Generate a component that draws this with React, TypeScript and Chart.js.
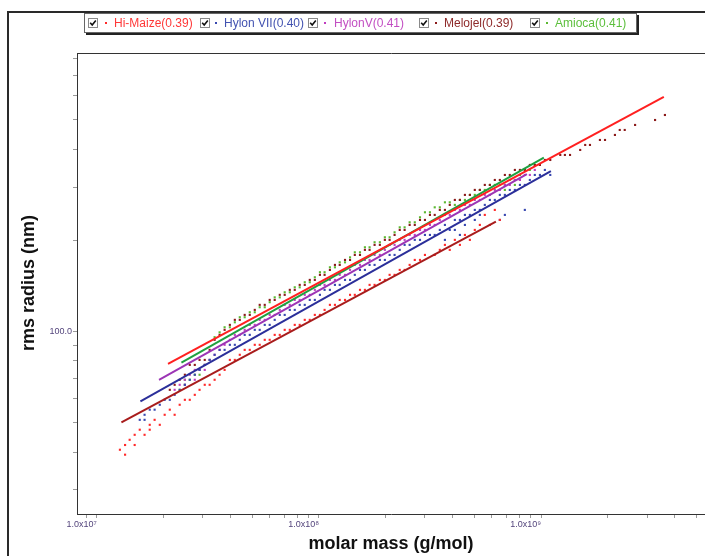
import React, { useEffect, useRef } from "react";
import { Chart, registerables } from "chart.js";

Chart.register(...registerables);

const FONT = "'Liberation Sans', Arial, 'DejaVu Sans', sans-serif";

// ---------- legend ----------
const seriesLabels = ["Hi-Maize(0.39)", "Hylon VII(0.40)", "HylonV(0.41)", "Melojel(0.39)", "Amioca(0.41)"];
const seriesTextColors = ["#ff3838", "#4252b0", "#c24ec2", "#8e2a2a", "#5cbf3c"];
const seriesDotColors = ["#ff2a2a", "#3848b0", "#c03cc0", "#8b1a1a", "#5cb832"];
const fitLineColors = ["#a81c1c", "#2b2f9a", "#9c35b5", "#ff2020", "#1fa040"];

// ---------- axis ticks ----------
const xTickValues = [
  9e6, 1e7, 2e7, 3e7, 4e7, 5e7, 6e7, 7e7, 8e7, 9e7,
  1e8, 2e8, 3e8, 4e8, 5e8, 6e8, 7e8, 8e8, 9e8,
  1e9, 2e9, 3e9, 4e9, 5e9,
];
const xTickLabels: Record<string, string> = { "10000000": "1.0x10\u2077", "100000000": "1.0x10\u2078", "1000000000": "1.0x10\u2079" };
const yTickValues = [30, 40, 50, 60, 70, 80, 90, 100, 200, 300, 400, 500, 600, 700, 800];
const yTickLabels: Record<string, string> = { "100": "100.0" };
const xMin = 8.14e6;
const xMax = 5.47e9;
const yMin = 24.97;
const yMax = 831.7;

// ---------- Hi-Maize ----------
const hiMaizeMass = [
  1.27e7, 1.34e7, 1.34e7, 1.405e7, 1.48e7, 1.48e7, 1.56e7, 1.64e7, 1.73e7, 1.73e7,
  1.82e7, 1.92e7, 2.02e7, 2.13e7, 2.24e7, 2.36e7, 2.49e7, 2.62e7, 2.76e7, 2.90e7,
  3.06e7, 3.22e7, 3.39e7, 3.57e7, 3.76e7,
  3.97e7, 4.18e7, 4.40e7, 4.63e7, 4.88e7, 5.14e7, 5.41e7, 5.70e7, 6.00e7, 6.32e7,
  6.66e7, 7.01e7, 7.39e7, 7.78e7, 8.19e7, 8.63e7, 9.09e7, 9.58e7, 1.01e8, 1.06e8,
  1.12e8, 1.18e8, 1.24e8, 1.31e8, 1.38e8, 1.45e8, 1.53e8, 1.61e8, 1.69e8, 1.78e8,
  1.88e8, 1.98e8, 2.08e8, 2.19e8, 2.31e8, 2.43e8, 2.56e8, 2.70e8, 2.85e8, 3.00e8,
  3.32e8, 3.50e8, 3.69e8, 3.88e8, 4.09e8, 4.31e8, 4.54e8, 4.78e8, 5.03e8, 5.30e8,
  5.58e8, 5.88e8, 6.19e8, 6.52e8,
];
const hiMaizeRadius = [
  40.7, 42.2, 39.2, 43.9, 45.6, 42.2, 47.4, 45.6, 49.2, 47.4,
  51.1, 49.2, 53.1, 55.2, 53.1, 57.3, 59.5, 59.5, 61.8, 64.2,
  66.7, 66.7, 69.3, 72.0, 74.7,
  80.6, 80.6, 83.8, 87.0, 87.0, 90.4, 90.4, 93.9, 93.9, 97.5,
  97.5, 101.3, 101.3, 105.2, 105.2, 109.3, 109.3, 113.5, 113.5, 117.9,
  122.5, 122.5, 127.2, 127.2, 132.2, 132.2, 137.3, 137.3, 142.6, 142.6,
  148.1, 148.1, 153.9, 153.9, 159.8, 159.8, 166.0, 172.4, 172.4, 179.1,
  179.1, 186.1, 193.3, 186.1, 200.8, 193.3, 208.5, 200.8, 216.6, 225.0,
  242.8, 225.0, 252.2, 233.7,
];

// ---------- Hylon VII ----------
const hylonVIIMass = [
  1.56e7, 1.64e7, 1.64e7, 1.73e7, 1.82e7, 1.92e7, 2.02e7, 2.13e7, 2.24e7, 2.36e7,
  2.49e7, 2.62e7, 2.76e7, 2.90e7, 3.06e7, 3.22e7,
  3.39e7, 3.57e7, 3.76e7, 3.97e7, 4.18e7, 4.40e7, 4.63e7, 4.88e7, 5.14e7, 5.41e7,
  5.70e7, 6.00e7, 6.32e7, 6.66e7, 7.01e7, 7.39e7, 7.78e7, 8.19e7, 8.63e7, 9.09e7,
  9.58e7, 1.01e8, 1.06e8, 1.12e8, 1.18e8, 1.24e8, 1.31e8, 1.38e8, 1.45e8, 1.53e8,
  1.61e8, 1.69e8, 1.78e8, 1.88e8, 1.98e8, 2.08e8, 2.19e8, 2.31e8, 2.43e8, 2.56e8,
  2.70e8, 2.85e8, 3.00e8, 3.16e8,
  3.32e8, 3.50e8, 3.69e8, 3.88e8, 4.09e8, 4.31e8, 4.54e8, 4.78e8, 5.03e8, 5.30e8,
  5.58e8, 5.88e8, 6.19e8, 6.52e8, 6.87e8, 7.23e8, 7.62e8, 8.03e8, 8.45e8, 8.90e8,
  9.37e8, 9.88e8, 1.04e9, 1.10e9,
  4.09e8, 4.54e8, 5.03e8, 5.30e8, 6.52e8, 6.87e8, 8.45e8, 3.69e8, 4.31e8,
];
const hylonVIIRadius = [
  51.1, 53.1, 51.1, 55.2, 55.2, 57.3, 59.5, 59.5, 61.8, 64.2,
  66.7, 69.3, 72.0, 74.7, 77.6, 80.6,
  83.8, 87.0, 87.0, 90.4, 90.4, 93.9, 97.5, 97.5, 101.3, 101.3,
  105.2, 105.2, 109.3, 113.5, 113.5, 117.9, 117.9, 122.5, 122.5, 127.2,
  127.2, 132.2, 137.3, 137.3, 142.6, 142.6, 148.1, 148.1, 153.9, 159.8,
  159.8, 166.0, 166.0, 172.4, 172.4, 179.1, 179.1, 186.1, 193.3, 193.3,
  200.8, 200.8, 208.5, 208.5,
  208.5, 216.6, 225.0, 216.6, 233.7, 233.7, 242.8, 242.8, 252.2, 252.2,
  262.0, 272.1, 272.1, 282.7, 282.7, 293.6, 293.6, 305.0, 305.0, 316.7,
  329.0, 329.0, 341.8, 329.0,
  216.6, 225.0, 233.7, 242.8, 233.7, 242.8, 252.2, 200.8, 208.5,
];

// ---------- HylonV ----------
const hylonVMass = [
  2.24e7, 2.36e7, 2.49e7, 2.49e7, 2.62e7, 2.76e7, 2.76e7, 2.90e7, 3.06e7, 3.06e7,
  3.22e7, 3.39e7,
  3.57e7, 3.76e7, 3.97e7, 4.18e7, 4.40e7, 4.63e7, 4.88e7, 5.14e7, 5.41e7, 5.70e7,
  6.00e7, 6.32e7, 6.66e7, 7.01e7, 7.39e7, 7.78e7, 8.19e7, 8.63e7, 9.09e7, 9.58e7,
  1.01e8, 1.06e8, 1.12e8, 1.18e8, 1.24e8, 1.31e8, 1.38e8, 1.45e8, 1.53e8, 1.61e8,
  1.69e8, 1.78e8, 1.88e8, 1.98e8, 2.08e8, 2.19e8, 2.31e8, 2.43e8, 2.56e8, 2.70e8,
  2.85e8, 3.00e8, 3.16e8, 3.32e8, 3.50e8, 3.69e8, 3.88e8, 4.09e8, 4.31e8, 4.54e8,
  4.78e8, 5.03e8, 5.30e8, 5.58e8, 5.88e8, 6.19e8, 6.52e8, 6.87e8, 7.23e8, 7.62e8,
  8.03e8, 8.45e8, 8.90e8, 9.37e8,
];
const hylonVRadius = [
  64.2, 66.7, 69.3, 66.7, 72.0, 69.3, 74.7, 74.7, 74.7, 77.6,
  80.6, 83.8,
  87.0, 90.4, 93.9, 97.5, 97.5, 101.3, 105.2, 105.2, 109.3, 109.3,
  113.5, 113.5, 117.9, 122.5, 122.5, 127.2, 127.2, 132.2, 132.2, 137.3,
  142.6, 142.6, 148.1, 148.1, 153.9, 153.9, 159.8, 166.0, 166.0, 172.4,
  172.4, 179.1, 179.1, 186.1, 193.3, 193.3, 200.8, 200.8, 208.5, 208.5,
  216.6, 216.6, 225.0, 225.0, 233.7, 242.8, 242.8, 252.2, 252.2, 262.0,
  262.0, 272.1, 272.1, 282.7, 282.7, 293.6, 293.6, 305.0, 305.0, 316.7,
  316.7, 329.0, 329.0, 341.8,
];

// ---------- Melojel ----------
const melojelMass = [
  2.13e7, 2.24e7, 2.36e7, 2.49e7, 2.62e7, 2.76e7, 2.90e7, 3.06e7,
  3.22e7, 3.39e7, 3.57e7, 3.76e7, 3.97e7, 4.18e7, 4.40e7, 4.63e7, 4.88e7, 5.14e7,
  5.41e7, 5.70e7, 6.00e7, 6.32e7, 6.66e7, 7.01e7, 7.39e7, 7.78e7, 8.19e7, 8.63e7,
  9.09e7, 9.58e7, 1.01e8, 1.06e8, 1.12e8, 1.18e8, 1.24e8, 1.31e8, 1.38e8, 1.45e8,
  1.53e8, 1.61e8, 1.69e8, 1.78e8, 1.88e8, 1.98e8, 2.08e8, 2.19e8, 2.31e8, 2.43e8,
  2.56e8, 2.70e8, 2.85e8, 3.00e8, 3.16e8, 3.32e8, 3.50e8, 3.69e8, 3.88e8, 4.09e8,
  4.31e8, 4.54e8, 4.78e8, 5.03e8, 5.30e8, 5.58e8, 5.88e8, 6.19e8, 6.52e8, 6.87e8,
  7.23e8, 7.62e8, 8.03e8, 8.45e8, 8.90e8,
  9.37e8, 9.88e8, 1.04e9, 1.10e9, 1.22e9, 1.28e9, 1.35e9, 1.50e9, 1.58e9, 1.66e9,
  1.84e9, 1.94e9, 2.15e9, 2.26e9, 2.38e9, 2.65e9, 3.26e9, 3.61e9,
];
const melojelRadius = [
  64.2, 66.7, 69.3, 72.0, 77.6, 77.6, 80.6, 80.6,
  87.0, 93.9, 97.5, 101.3, 105.2, 109.3, 109.3, 113.5, 113.5, 117.9,
  122.5, 122.5, 127.2, 127.2, 132.2, 132.2, 137.3, 137.3, 142.6, 142.6,
  148.1, 148.1, 153.9, 153.9, 159.8, 166.0, 166.0, 172.4, 172.4, 179.1,
  179.1, 186.1, 186.1, 193.3, 193.3, 200.8, 200.8, 208.5, 216.6, 216.6,
  225.0, 225.0, 233.7, 233.7, 242.8, 242.8, 252.2, 252.2, 262.0, 272.1,
  272.1, 282.7, 282.7, 293.6, 293.6, 305.0, 305.0, 316.7, 316.7, 329.0,
  329.0, 341.8, 341.8, 341.8, 355.0,
  355.0, 355.0, 368.7, 368.7, 383.0, 383.0, 383.0, 397.9, 413.3, 413.3,
  429.3, 429.3, 446.0, 463.2, 463.2, 481.2, 499.7, 519.1,
];

// ---------- Amioca ----------
const amiocaMass = [
  2.36e7, 2.49e7, 2.49e7, 2.62e7, 2.76e7, 2.90e7, 2.90e7, 3.06e7, 3.22e7,
  3.39e7, 3.57e7, 3.76e7, 3.97e7, 4.18e7, 4.40e7, 4.63e7, 4.88e7, 5.14e7, 5.41e7,
  5.70e7, 6.00e7, 6.32e7, 6.66e7, 7.01e7, 7.39e7, 7.78e7, 8.19e7, 8.63e7, 9.09e7,
  9.58e7, 1.01e8, 1.06e8, 1.12e8, 1.18e8, 1.24e8, 1.31e8, 1.38e8, 1.45e8, 1.53e8,
  1.61e8, 1.69e8, 1.78e8, 1.88e8, 1.98e8, 2.08e8, 2.19e8, 2.31e8, 2.43e8, 2.56e8,
  2.70e8, 2.85e8, 3.00e8, 3.16e8, 3.32e8, 3.50e8, 3.69e8, 3.88e8, 4.09e8, 4.31e8,
  4.54e8, 4.78e8, 5.03e8, 5.30e8, 5.58e8, 5.88e8, 6.19e8, 6.52e8, 6.87e8, 7.23e8,
  7.62e8, 8.03e8, 8.45e8, 8.90e8, 9.37e8, 9.88e8,
  6.87e8, 7.62e8, 8.03e8,
];
const amiocaRadius = [
  64.2, 69.3, 66.7, 69.3, 72.0, 74.7, 72.0, 77.6, 80.6,
  95.8, 99.4, 103.3, 103.3, 107.3, 111.5, 111.5, 115.8, 115.8, 120.3,
  120.3, 125.0, 129.7, 129.7, 134.8, 134.8, 140.0, 140.0, 145.5, 145.5,
  151.1, 157.0, 157.0, 163.0, 163.0, 169.3, 169.3, 175.8, 182.7, 182.7,
  189.8, 189.8, 197.2, 197.2, 204.8, 204.8, 212.7, 220.9, 220.9, 229.5,
  229.5, 238.4, 247.7, 247.7, 257.2, 257.2, 267.2, 267.2, 262.0, 272.1,
  272.1, 282.7, 282.7, 293.6, 293.6, 305.0, 305.0, 305.0, 305.0, 316.7,
  316.7, 329.0, 341.8, 341.8, 355.0, 355.0,
  293.6, 305.0, 316.7,
];

// ---------- fit lines (start, end) ----------
const hiMaizeFitMass = [1.29e7, 6.26e8];
const hiMaizeFitRadius = [50.1, 230.7];
const hylonVIIFitMass = [1.571e7, 1.107e9];
const hylonVIIFitRadius = [58.8, 338.8];
const hylonVFitMass = [1.905e7, 8.63e8];
const hylonVFitRadius = [69.3, 331.0];
const melojelFitMass = [2.091e7, 3.57e9];
const melojelFitRadius = [78.2, 595.3];
const amiocaFitMass = [2.403e7, 1.029e9];
const amiocaFitRadius = [79.0, 375.2];

const scatterSeries = [
  [hiMaizeMass, hiMaizeRadius],
  [hylonVIIMass, hylonVIIRadius],
  [hylonVMass, hylonVRadius],
  [melojelMass, melojelRadius],
  [amiocaMass, amiocaRadius],
];
const fitSeries = [
  [hiMaizeFitMass, hiMaizeFitRadius],
  [hylonVIIFitMass, hylonVIIFitRadius],
  [hylonVFitMass, hylonVFitRadius],
  [melojelFitMass, melojelFitRadius],
  [amiocaFitMass, amiocaFitRadius],
];

const toPoints = (xs: number[], ys: number[]) => xs.map((x, i) => ({ x, y: ys[i] }));

const plotTopBorder = {
  id: "plotTopBorder",
  afterDraw(chart: any) {
    const { ctx, chartArea } = chart;
    ctx.save();
    ctx.strokeStyle = "#333";
    ctx.lineWidth = 1;
    ctx.beginPath();
    const y = Math.floor(chartArea.top) + 0.5;
    ctx.moveTo(chartArea.left, y);
    ctx.lineTo(chartArea.right + 2, y);
    ctx.stroke();
    ctx.restore();
  },
};

const legendCheckLeft = [88, 200, 308, 419, 530];
const legendDotLeft = [105, 215, 324, 435, 546];
const legendTextLeft = [114, 224, 334, 444, 555];

function CheckBox({ left }: { left: number }) {
  return (
    <svg width="10" height="10" style={{ position: "absolute", left, top: 18 }}>
      <rect x="0.5" y="0.5" width="9" height="9" fill="#fff" stroke="#8a8a8a" />
      <path d="M2.2 4.8 L4.2 7 L7.8 2.6" fill="none" stroke="#111" strokeWidth="1.6" />
    </svg>
  );
}

export default function App() {
  const canvasRef = useRef<HTMLCanvasElement | null>(null);

  useEffect(() => {
    if (!canvasRef.current) return;
    const tickColor = "#9a9a9a";
    const labelColor = "#54457c";
    const datasets: any[] = [];
    fitSeries.forEach(([xs, ys], i) => {
      datasets.push({
        label: seriesLabels[i] + " fit",
        data: toPoints(xs, ys),
        showLine: true,
        borderColor: fitLineColors[i],
        borderWidth: 2,
        pointRadius: 0,
        fill: false,
        order: 0,
      });
    });
    scatterSeries.forEach(([xs, ys], i) => {
      datasets.push({
        label: seriesLabels[i],
        data: toPoints(xs, ys),
        showLine: false,
        pointStyle: "rect",
        pointRadius: 1.5,
        pointBorderWidth: 0,
        pointBackgroundColor: seriesDotColors[i],
        pointBorderColor: seriesDotColors[i],
        order: 1,
      });
    });

    const chart = new Chart(canvasRef.current, {
      type: "scatter",
      data: { datasets },
      plugins: [plotTopBorder],
      options: {
        animation: false,
        responsive: false,
        events: [],
        layout: { autoPadding: false, padding: { left: 0, top: 53, right: 0, bottom: 0 } },
        plugins: { legend: { display: false }, tooltip: { enabled: false } },
        scales: {
          x: {
            type: "logarithmic",
            min: xMin,
            max: xMax,
            bounds: "data",
            afterBuildTicks: (s: any) => {
              s.ticks = xTickValues.map((v) => ({ value: v }));
            },
            afterFit: (s: any) => {
              s.height = 42;
            },
            ticks: {
              autoSkip: false,
              maxRotation: 0,
              minRotation: 0,
              align: "end",
              padding: 1,
              color: labelColor,
              font: { family: FONT, size: 9 },
              callback: (v: any) => xTickLabels[String(v)] ?? "",
            },
            grid: { drawOnChartArea: false, drawTicks: true, tickLength: 4, tickColor: tickColor },
            border: { display: true, color: "#333", width: 1 },
          },
          y: {
            type: "logarithmic",
            min: yMin,
            max: yMax,
            bounds: "data",
            afterBuildTicks: (s: any) => {
              s.ticks = yTickValues.map((v) => ({ value: v }));
            },
            afterFit: (s: any) => {
              s.width = 77;
            },
            ticks: {
              autoSkip: false,
              padding: 1,
              color: labelColor,
              font: { family: FONT, size: 9 },
              callback: (v: any) => yTickLabels[String(v)] ?? "",
            },
            grid: { drawOnChartArea: false, drawTicks: true, tickLength: 4, tickColor: tickColor },
            border: { display: true, color: "#333", width: 1 },
          },
        },
      } as any,
    });
    return () => chart.destroy();
  }, []);

  return (
    <div
      style={{
        position: "absolute",
        left: 0,
        top: 0,
        width: 705,
        height: 556,
        overflow: "hidden",
        background: "#fff",
        fontFamily: FONT,
      }}
    >
      <canvas ref={canvasRef} width={705} height={556} style={{ position: "absolute", left: 0, top: 0, width: 705, height: 556 }} />
      {/* outer frame */}
      <div style={{ position: "absolute", left: 7, top: 11, width: 720, height: 2, background: "#2a2a2a" }} />
      <div style={{ position: "absolute", left: 7, top: 11, width: 2, height: 560, background: "#2a2a2a" }} />
      {/* legend */}
      <div
        style={{
          position: "absolute",
          left: 84,
          top: 13,
          width: 551,
          height: 18,
          background: "#fff",
          border: "1px solid #666",
          boxShadow: "2px 2px 0 #222",
        }}
      />
      {seriesLabels.map((name, i) => (
        <React.Fragment key={name}>
          <CheckBox left={legendCheckLeft[i]} />
          <div
            style={{
              position: "absolute",
              left: legendDotLeft[i],
              top: 22,
              width: 2,
              height: 2,
              background: seriesDotColors[i],
            }}
          />
          <div
            style={{
              position: "absolute",
              left: legendTextLeft[i],
              top: 16,
              height: 14,
              lineHeight: "14px",
              fontSize: 12,
              color: seriesTextColors[i],
              whiteSpace: "nowrap",
            }}
          >
            {name}
          </div>
        </React.Fragment>
      ))}
      {/* axis titles */}
      <div
        style={{
          position: "absolute",
          left: 28 - 100,
          top: 283 - 11,
          width: 200,
          height: 22,
          lineHeight: "22px",
          textAlign: "center",
          fontSize: 18,
          fontWeight: "bold",
          color: "#111",
          transform: "rotate(-90deg)",
          whiteSpace: "nowrap",
        }}
      >
        rms radius (nm)
      </div>
      <div
        style={{
          position: "absolute",
          left: 391 - 150,
          top: 532,
          width: 300,
          height: 22,
          lineHeight: "22px",
          textAlign: "center",
          fontSize: 18,
          fontWeight: "bold",
          color: "#111",
          whiteSpace: "nowrap",
        }}
      >
        molar mass (g/mol)
      </div>
    </div>
  );
}
